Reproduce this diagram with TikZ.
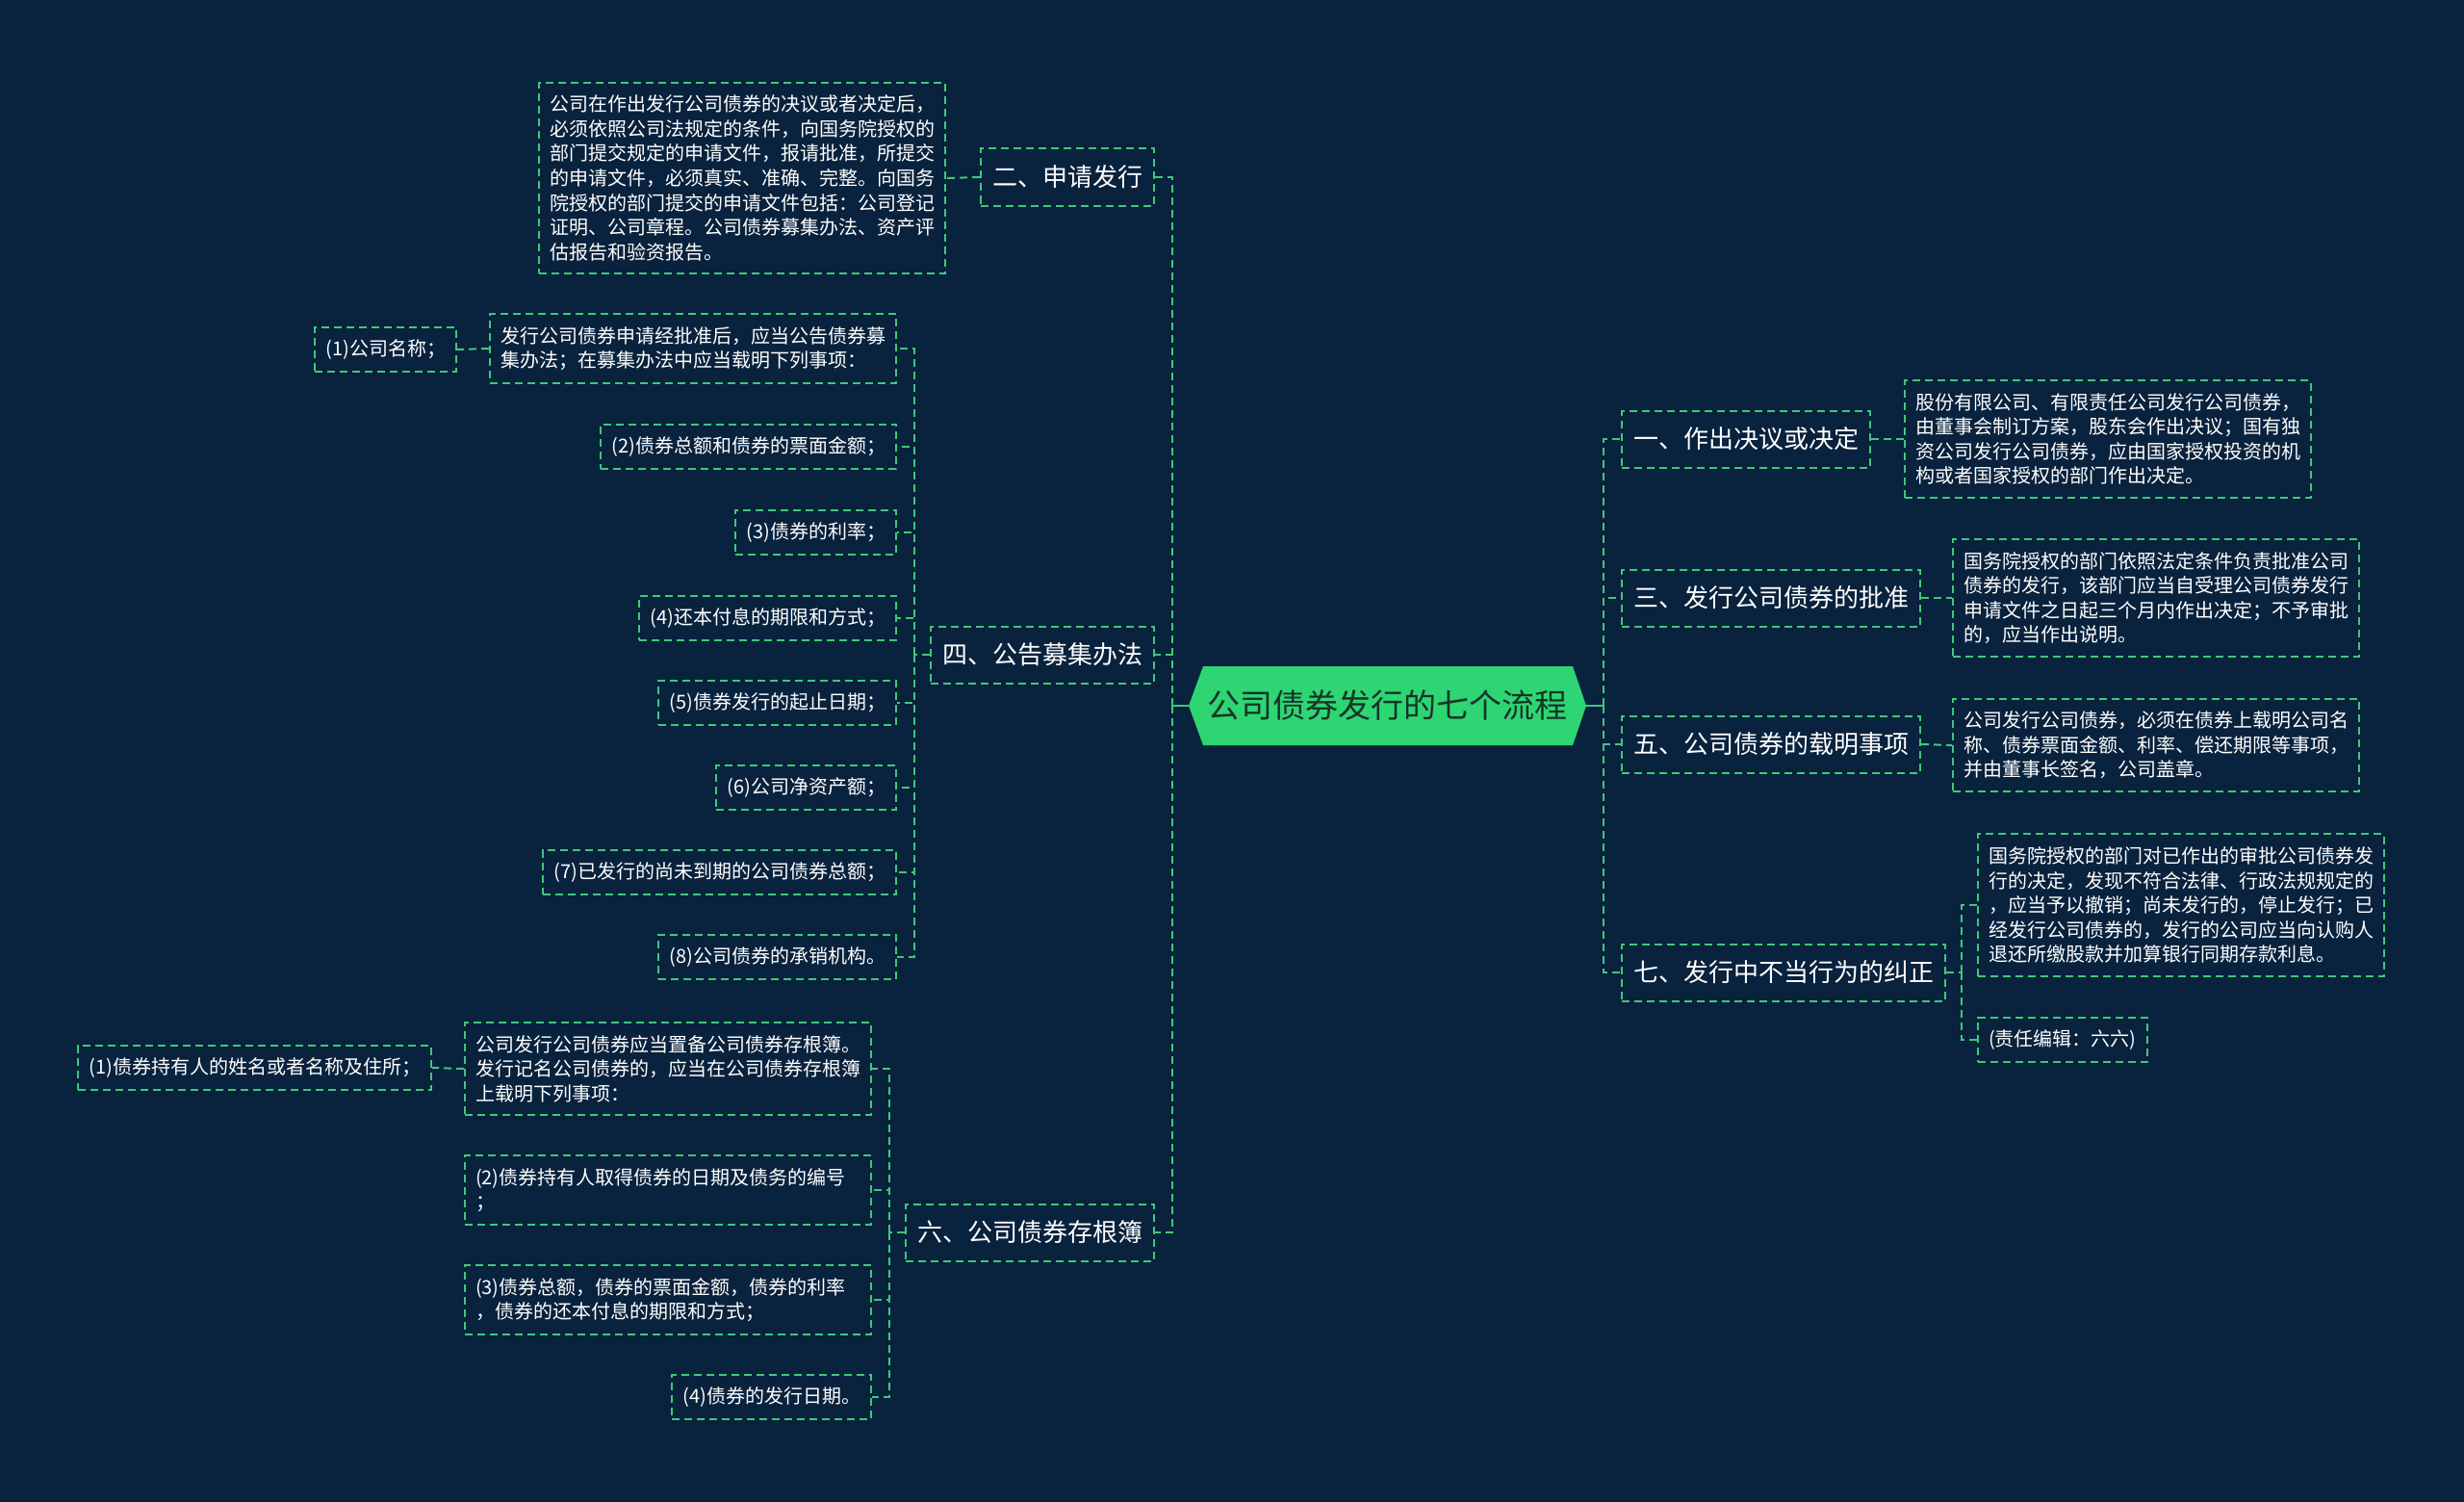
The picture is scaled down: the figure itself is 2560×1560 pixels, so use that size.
\documentclass[tikz,border=0pt]{standalone}
\usepackage{fontspec}
\setmainfont{Noto Sans CJK SC}
\usetikzlibrary{positioning}
\definecolor{NightBlue}{RGB}{9, 34, 61}
\definecolor{LinkGreen}{RGB}{62, 201, 120}
\definecolor{RootGreen}{RGB}{46, 213, 115}
\definecolor{RootText}{RGB}{22, 52, 40}

\begin{document}
\begin{tikzpicture}[x=1pt, y=-1pt,
    link/.style={LinkGreen, line width=2pt, dash pattern=on 8pt off 5pt},
    topic/.style={draw=LinkGreen, line width=2pt, dash pattern=on 8pt off 5pt, text=white,
      font=\fontsize{26}{32}\selectfont, inner xsep=12pt, inner ysep=0pt, minimum height=59pt},
    leaf/.style={draw=LinkGreen, line width=2pt, dash pattern=on 8pt off 5pt, text=white,
      font=\fontsize{20}{25.6}\selectfont, align=left, inner xsep=11pt, inner ysep=13pt, minimum height=46pt}]
    \fill[NightBlue] (0,0) rectangle (2560,1560);

    % Centre
    \fill[RootGreen] (1235,733) -- (1250,692) -- (1634,692) -- (1648,733) -- (1634,774) -- (1250,774) -- cycle;
    \node[text=RootText, font=\fontsize{34}{40}\selectfont, minimum width=413pt, minimum height=82pt] (root) at (1441.5,733) {公司债券发行的七个流程};
    \coordinate (leftTrunk) at (1218,733);
    \coordinate (rightTrunk) at (1666,733);
    \draw[LinkGreen, line width=2pt] (root.west) -- (leftTrunk);
    \draw[LinkGreen, line width=2pt] (root.east) -- (rightTrunk);

    % Left side
    \node[topic, left] (shenqing) at (1200,184) {二、申请发行};
    \node[leaf, left] (shenqingText) at (983,185) {公司在作出发行公司债券的决议或者决定后，\\必须依照公司法规定的条件，向国务院授权的\\部门提交规定的申请文件，报请批准，所提交\\的申请文件，必须真实、准确、完整。向国务\\院授权的部门提交的申请文件包括：公司登记\\证明、公司章程。公司债券募集办法、资产评\\估报告和验资报告。};

    \node[topic, left] (gonggao) at (1200,680) {四、公告募集办法};
    \node[leaf, left] (gonggaoText) at (932,362) {发行公司债券申请经批准后，应当公告债券募\\集办法；在募集办法中应当载明下列事项：};
    \node[leaf, left] (item1) at (475,363) {(1)公司名称；};
    \node[leaf, left] (item2) at (932,464) {(2)债券总额和债券的票面金额；};
    \node[leaf, left] (item3) at (932,553) {(3)债券的利率；};
    \node[leaf, left] (item4) at (932,642) {(4)还本付息的期限和方式；};
    \node[leaf, left] (item5) at (932,730) {(5)债券发行的起止日期；};
    \node[leaf, left] (item6) at (932,818) {(6)公司净资产额；};
    \node[leaf, left] (item7) at (932,906) {(7)已发行的尚未到期的公司债券总额；};
    \node[leaf, left] (item8) at (932,994) {(8)公司债券的承销机构。};

    \node[topic, left] (cungen) at (1200,1280) {六、公司债券存根簿};
    \node[leaf, left] (cungenText) at (906,1110) {公司发行公司债券应当置备公司债券存根簿。\\发行记名公司债券的，应当在公司债券存根簿\\上载明下列事项：};
    \node[leaf, left] (holder1) at (449,1109) {(1)债券持有人的姓名或者名称及住所；};
    \node[leaf, left, text width=400pt] (holder2) at (906,1236) {(2)债券持有人取得债券的日期及债务的编号\\；};
    \node[leaf, left, text width=400pt] (holder3) at (906,1350) {(3)债券总额，债券的票面金额，债券的利率\\，债券的还本付息的期限和方式；};
    \node[leaf, left] (holder4) at (906,1451) {(4)债券的发行日期。};

    % Right side
    \node[topic, right] (jueyi) at (1684,456) {一、作出决议或决定};
    \node[leaf, right] (jueyiText) at (1978,456) {股份有限公司、有限责任公司发行公司债券，\\由董事会制订方案，股东会作出决议；国有独\\资公司发行公司债券，应由国家授权投资的机\\构或者国家授权的部门作出决定。};
    \node[topic, right] (pizhun) at (1684,621) {三、发行公司债券的批准};
    \node[leaf, right] (pizhunText) at (2028,621) {国务院授权的部门依照法定条件负责批准公司\\债券的发行，该部门应当自受理公司债券发行\\申请文件之日起三个月内作出决定；不予审批\\的，应当作出说明。};
    \node[topic, right] (zaiming) at (1684,773) {五、公司债券的载明事项};
    \node[leaf, right] (zaimingText) at (2028,774) {公司发行公司债券，必须在债券上载明公司名\\称、债券票面金额、利率、偿还期限等事项，\\并由董事长签名，公司盖章。};
    \node[topic, right] (jiuzheng) at (1684,1010) {七、发行中不当行为的纠正};
    \node[leaf, right] (jiuzhengText) at (2054,940) {国务院授权的部门对已作出的审批公司债券发\\行的决定，发现不符合法律、行政法规规定的\\，应当予以撤销；尚未发行的，停止发行；已\\经发行公司债券的，发行的公司应当向认购人\\退还所缴股款并加算银行同期存款利息。};
    \node[leaf, right] (editor) at (2054,1080) {(责任编辑：六六)};

    % Connectors
    \draw[link] (leftTrunk) |- (shenqing.east);
    \draw[link] (leftTrunk) |- (gonggao.east);
    \draw[link] (leftTrunk) |- (cungen.east);
    \draw[link] (rightTrunk) |- (jueyi.west);
    \draw[link] (rightTrunk) |- (pizhun.west);
    \draw[link] (rightTrunk) |- (zaiming.west);
    \draw[link] (rightTrunk) |- (jiuzheng.west);

    \draw[link] (shenqing.west) -- (shenqingText.east);
    \coordinate (gonggaoFork) at (950,680);
    \draw[link] (gonggao.west) -- (gonggaoFork);
    \draw[link] (gonggaoFork) |- (gonggaoText.east);
    \draw[link] (gonggaoFork) |- (item2.east);
    \draw[link] (gonggaoFork) |- (item3.east);
    \draw[link] (gonggaoFork) |- (item4.east);
    \draw[link] (gonggaoFork) |- (item5.east);
    \draw[link] (gonggaoFork) |- (item6.east);
    \draw[link] (gonggaoFork) |- (item7.east);
    \draw[link] (gonggaoFork) |- (item8.east);
    \draw[link] (gonggaoText.west) -- (item1.east);

    \coordinate (cungenFork) at (924,1280);
    \draw[link] (cungen.west) -- (cungenFork);
    \draw[link] (cungenFork) |- (cungenText.east);
    \draw[link] (cungenFork) |- (holder2.east);
    \draw[link] (cungenFork) |- (holder3.east);
    \draw[link] (cungenFork) |- (holder4.east);
    \draw[link] (cungenText.west) -- (holder1.east);

    \draw[link] (jueyi.east) -- (jueyiText.west);
    \draw[link] (pizhun.east) -- (pizhunText.west);
    \draw[link] (zaiming.east) -- (zaimingText.west);
    \coordinate (jiuzhengFork) at (2038,1010);
    \draw[link] (jiuzheng.east) -- (jiuzhengFork);
    \draw[link] (jiuzhengFork) |- (jiuzhengText.west);
    \draw[link] (jiuzhengFork) |- (editor.west);
  \end{tikzpicture}
\end{document}
